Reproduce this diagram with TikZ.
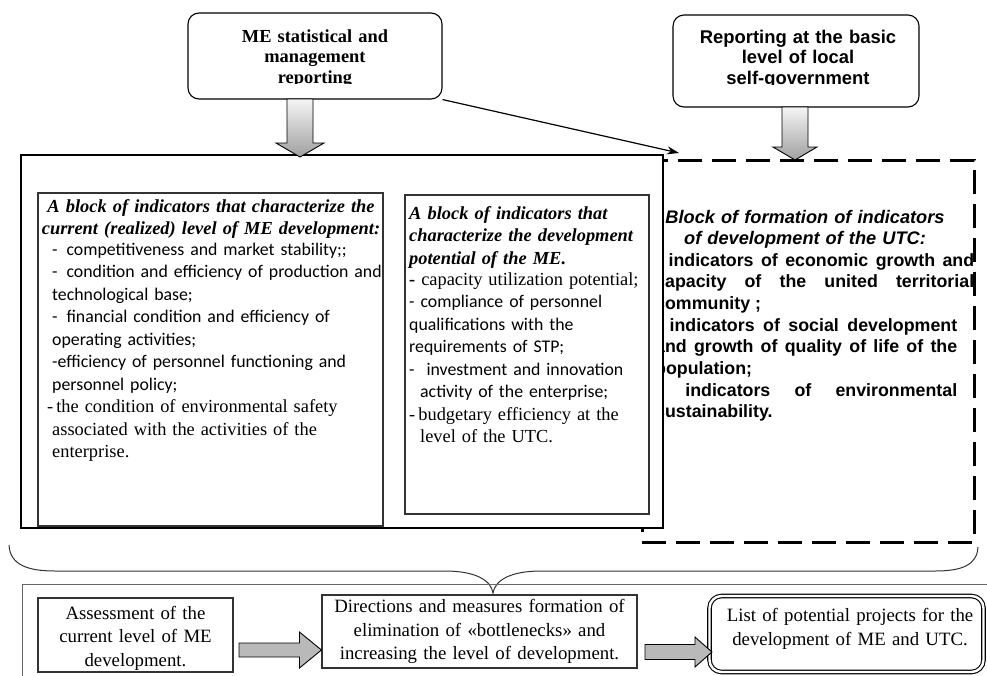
\documentclass[tikz,border=0pt]{standalone}
\usepackage{fontspec}
\setmainfont{Liberation Serif}
\newfontfamily\arialfont{Liberation Sans}
\newfontfamily\calibrifont{Carlito}
\usetikzlibrary{arrows.meta,calc}
\newcommand{\docsize}{\fontsize{18.4}{22.5}\selectfont}
\newcommand{\calsize}{\fontsize{17.8}{22.5}\selectfont}
\newcommand{\headsize}{\fontsize{18.4}{20.3}\selectfont}
\newcommand{\sheetsize}{\fontsize{18.2}{21.7}\selectfont}
\newcommand{\bodysize}{\fontsize{17.8}{21.7}\selectfont}
\newcommand{\lowsize}{\fontsize{18.8}{23.5}\selectfont}
% tail, tip, shaft half width, head half width, head length
\newcommand{\droparrow}[5]{\draw[gradarrow] ($(#1)+(-#3,0)$) -- ($(#2)+(-#3,-#5)$) -- ($(#2)+(-#4,-#5)$) -- (#2) -- ($(#2)+(#4,-#5)$) -- ($(#2)+(#3,-#5)$) -- ($(#1)+(#3,0)$) -- cycle;}
\newcommand{\flatarrow}[5]{\draw[flatarrow] ($(#1)+(0,-#3)$) -- ($(#2)+(-#5,-#3)$) -- ($(#2)+(-#5,-#4)$) -- (#2) -- ($(#2)+(-#5,#4)$) -- ($(#2)+(-#5,#3)$) -- ($(#1)+(0,#3)$) -- cycle;}

\begin{document}
\begin{tikzpicture}[x=1pt,y=-1pt,
  reportbox/.style={draw,rounded corners=11pt,line width=1.1pt,inner sep=0pt},
  blockframe/.style={draw=black!80,line width=1.1pt,inner sep=0pt},
  gradarrow/.style={draw=black,line width=0.9pt,top color=gray!8,bottom color=gray!75},
  flatarrow/.style={draw=black,line width=0.9pt,fill=gray!55},
  txt/.style={inner sep=0pt}]
  \useasboundingbox (0,0) rectangle (987,675);
  \clip (0,0) rectangle (987,675);
  %% reporting sources
  \node (mereport) at (315,56) [reportbox,minimum width=254,minimum height=86] {};
  \node (utcreport) at (796,61) [reportbox,minimum width=246,minimum height=92] {};
  \begin{scope}
    \clip (190,15) rectangle (440,83.5);
    \node (metext) at (315,42.5) [txt,anchor=base,text width=250,align=center,font=\bfseries\headsize] {ME statistical and\\ management\\ reporting};
  \end{scope}
  \begin{scope}
    \clip (675,17) rectangle (917,84.5);
    \node (utctext) at (798,43.5) [txt,anchor=base,text width=240,align=center,font=\arialfont\bfseries\headsize] {Reporting at the basic\\ level of local\\ self-government};
  \end{scope}
  %% UTC block (behind the ME block)
  \node (utcblock) at (808,351) [draw,line width=3pt,dash pattern=on 24pt off 10pt,minimum width=332,minimum height=382,inner sep=0pt] {};
  \node (utctitle) at (805,223) [txt,anchor=base,text width=320,align=center,font=\arialfont\bfseries\itshape\sheetsize] {Block of formation of indicators\\ of development of the UTC:};
  \node (utcbody) at (655,266) [txt,anchor=base west,text width=319,align=justify,font=\arialfont\bfseries\bodysize] {\hyphenpenalty=10000 -~indicators of economic growth and\linebreak capacity of the united territorial\linebreak community ;\par
    {\rightskip=17pt\relax -~indicators of social development\linebreak and growth of quality of life of the\linebreak population;\par}
    {\rightskip=17pt\relax -~indicators of environmental\linebreak sustainability.\par}};
  %% ME block
  \node (devblock) at (342,341.5) [draw,fill=white,line width=2pt,minimum width=642,minimum height=373,inner sep=0pt] {};
  \node (curblock) at (210.5,359.5) [blockframe,minimum width=345,minimum height=333] {};
  \node (potblock) at (527,354.5) [blockframe,minimum width=244,minimum height=319] {};
  \node (curtitle) at (211,212) [txt,anchor=base,text width=345,align=center,font=\bfseries\itshape\docsize] {A block of indicators that characterize the\\ current (realized) level of ME development:};
  \node (curbody) at (52,255) [txt,anchor=base west,text width=345,align=left,font=\calibrifont\calsize] {- \,competitiveness and market stability;;\\
    - \,condition and efficiency of production and\\
    technological base;\\
    - \,financial condition and efficiency of\\
    operating activities;\\
    -efficiency of personnel functioning and\\
    personnel policy;\\
    {\rmfamily\docsize\hspace*{-5pt}-\,the condition of environmental safety}\\
    {\rmfamily\docsize associated with the activities of the}\\
    {\rmfamily\docsize enterprise.}};
  \node (pottitle) at (409,219) [txt,anchor=base west,text width=238,align=left,font=\bfseries\itshape\docsize] {A block of indicators that\\ characterize the development\\ potential of the ME.};
  \node (potbody) at (409,285) [txt,anchor=base west,text width=238,align=left,font=\calibrifont\calsize] {{\rmfamily\docsize\textbf{-} capacity utilization potential;}\\
    - compliance of personnel\\
    qualifications with the\\
    requirements of STP;\\
    -\ \ investment and innovation\\
    \hspace*{11pt}activity of the enterprise;\\
    {\rmfamily\docsize -\,budgetary efficiency at the}\\
    {\rmfamily\docsize\hspace*{11pt}level of the UTC.}};
  %% arrows from the reporting
  \coordinate (medrop) at (300,99);
  \coordinate (medroptip) at (300,157);
  \coordinate (utcdrop) at (795,107);
  \coordinate (utcdroptip) at (795,160);
  \droparrow{medrop}{medroptip}{13}{24}{14}
  \droparrow{utcdrop}{utcdroptip}{13}{22}{13}
  \coordinate (utcin) at (679,153);
  \draw [-{Stealth[length=12pt,width=8pt]},line width=1.2pt] (mereport.south east) -- (utcin);
  %% brace
  \draw [black!80,line width=1pt] (9,545) .. controls (10,565) and (28,571) .. (55,571) -- (445,571) .. controls (475,571) and (491,580) .. (493,593) .. controls (495,580) and (511,571) .. (541,571) -- (935,571) .. controls (962,571) and (977,565) .. (978,547);
  %% result steps
  \draw [black!60,line width=1pt] (22,584) rectangle (1000,700);
  \node (assess) at (135.5,635) [blockframe,minimum width=195,minimum height=74] {};
  \node (assesstext) at (135.5,638) [txt,text width=190,align=center,font=\lowsize] {Assessment of the\\ current level of ME\\ development.};
  \node (measures) at (479.5,631.5) [blockframe,minimum width=315,minimum height=73,text width=310,align=center,font=\lowsize] {Directions and measures formation of\\ elimination of «bottlenecks» and\\ increasing the level of development.};
  \node (projects) at (846.5,634) [draw,double,double distance=2.4pt,line width=1.1pt,rounded corners=12pt,minimum width=274,minimum height=76] {};
  \node (projtext) at (850,629) [txt,text width=270,align=center,font=\lowsize] {List of potential projects for the\\ development of ME and UTC.};
  \coordinate (flowa) at (239,650);
  \coordinate (flowatip) at (measures.west |- flowa);
  \coordinate (flowb) at (645,652);
  \coordinate (flowbtip) at ($(projects.west |- flowb)+(3,0)$);
  \flatarrow{flowa}{flowatip}{7}{18}{22}
  \flatarrow{flowb}{flowbtip}{7.5}{15}{17}
\end{tikzpicture}
\end{document}
